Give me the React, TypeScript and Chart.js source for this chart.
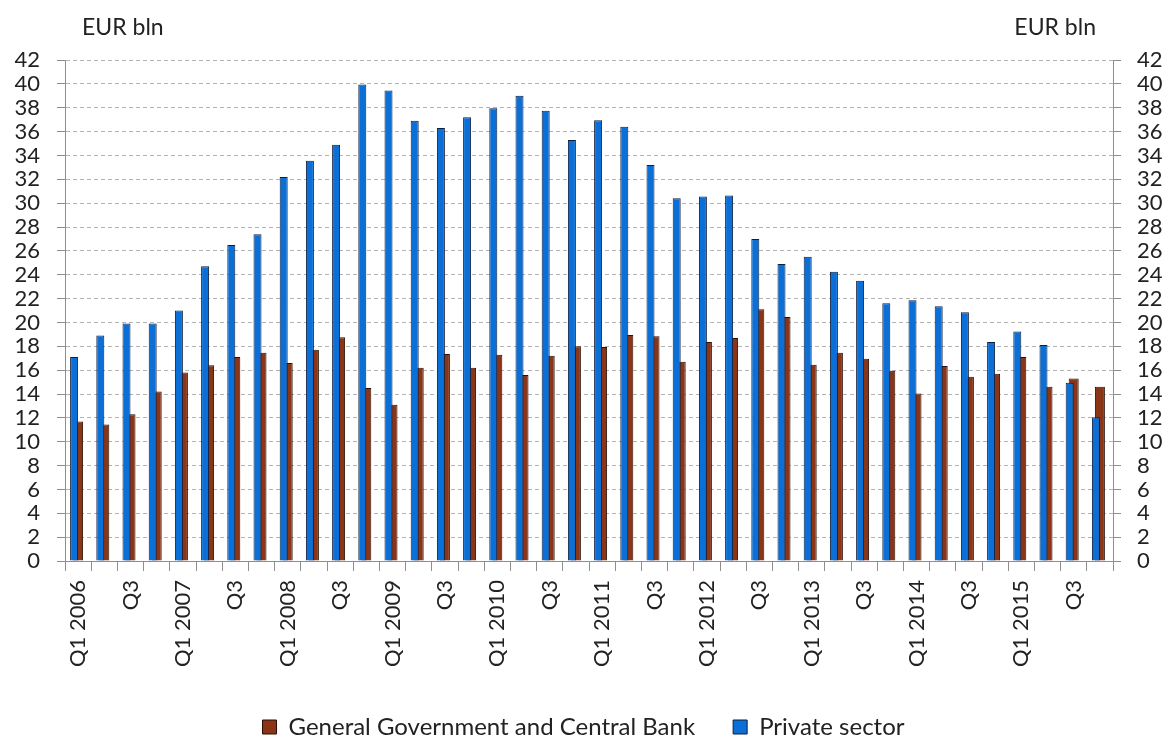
import React, { useEffect, useRef } from 'react';
import { Chart, registerables } from 'chart.js';

Chart.register(...registerables);

const categories = [
  'Q1 2006', 'Q2 2006', 'Q3 2006', 'Q4 2006',
  'Q1 2007', 'Q2 2007', 'Q3 2007', 'Q4 2007',
  'Q1 2008', 'Q2 2008', 'Q3 2008', 'Q4 2008',
  'Q1 2009', 'Q2 2009', 'Q3 2009', 'Q4 2009',
  'Q1 2010', 'Q2 2010', 'Q3 2010', 'Q4 2010',
  'Q1 2011', 'Q2 2011', 'Q3 2011', 'Q4 2011',
  'Q1 2012', 'Q2 2012', 'Q3 2012', 'Q4 2012',
  'Q1 2013', 'Q2 2013', 'Q3 2013', 'Q4 2013',
  'Q1 2014', 'Q2 2014', 'Q3 2014', 'Q4 2014',
  'Q1 2015', 'Q2 2015', 'Q3 2015', 'Q4 2015',
];

const tickLabels = [
  'Q1 2006', '', 'Q3', '',
  'Q1 2007', '', 'Q3', '',
  'Q1 2008', '', 'Q3', '',
  'Q1 2009', '', 'Q3', '',
  'Q1 2010', '', 'Q3', '',
  'Q1 2011', '', 'Q3', '',
  'Q1 2012', '', 'Q3', '',
  'Q1 2013', '', 'Q3', '',
  'Q1 2014', '', 'Q3', '',
  'Q1 2015', '', 'Q3', '',
];

const privateSector = [
  17.1, 18.9, 19.9, 19.9,
  21.0, 24.7, 26.5, 27.4,
  32.2, 33.55, 34.9, 39.95,
  39.45, 36.9, 36.3, 37.2,
  37.95, 39.0, 37.75, 35.3,
  36.95, 36.4, 33.2, 30.4,
  30.55, 30.65, 27.0, 24.9,
  25.5, 24.25, 23.5, 21.6,
  21.85, 21.35, 20.85, 18.35,
  19.25, 18.1, 14.95, 12.05,
];

const generalGovernment = [
  11.7, 11.45, 12.3, 14.2,
  15.8, 16.4, 17.1, 17.45,
  16.6, 17.7, 18.75, 14.5,
  13.1, 16.2, 17.35, 16.2,
  17.3, 15.6, 17.2, 18.0,
  17.95, 18.95, 18.85, 16.7,
  18.35, 18.7, 21.1, 20.45,
  16.45, 17.45, 16.95, 15.95,
  14.05, 16.35, 15.45, 15.7,
  17.1, 14.6, 15.3, 14.6,
];

const seriesNames = ['Private sector', 'General Government and Central Bank'];
const unitLabel = 'EUR bln';
const yMin = 0;
const yMax = 42;
const yStep = 2;

const FONT = 'Lato, "Open Sans", sans-serif';
const TEXT = '#222222';
const AXIS = '#8e8e8e';

export default function App() {
  const ref = useRef<HTMLCanvasElement | null>(null);

  useEffect(() => {
    if (!ref.current) return;

    const unitPlugin = {
      id: 'unitLabels',
      afterDraw(chart: any) {
        const { ctx, chartArea } = chart;
        ctx.save();
        ctx.font = `23px ${FONT}`;
        ctx.fillStyle = TEXT;
        ctx.textBaseline = 'middle';
        ctx.textAlign = 'left';
        ctx.fillText(unitLabel, chartArea.left + 17, 28);
        ctx.textAlign = 'right';
        ctx.fillText(unitLabel, chartArea.right - 17, 28);
        ctx.restore();
      },
    };

    const catPct = 0.458;

    const chart = new Chart(ref.current, {
      type: 'bar',
      data: {
        labels: categories,
        datasets: [
          {
            label: seriesNames[0],
            data: privateSector,
            backgroundColor: '#0a70d8',
            borderColor: '#0f1e3c',
            borderWidth: 1,
            barPercentage: 2,
            categoryPercentage: catPct,
          },
          {
            label: seriesNames[1],
            data: generalGovernment,
            backgroundColor: '#8b3517',
            borderColor: '#2a0f06',
            borderWidth: 1,
            barPercentage: 2.5,
            categoryPercentage: catPct,
          },
          {
            label: '',
            data: [],
            backgroundColor: 'rgba(0,0,0,0)',
            borderWidth: 0,
            categoryPercentage: catPct,
          },
        ],
      },
      plugins: [unitPlugin],
      options: {
        animation: false,
        responsive: true,
        maintainAspectRatio: false,
        layout: { padding: { top: 60, left: 0, right: 0, bottom: -11 } },
        plugins: {
          tooltip: { enabled: false },
          legend: {
            position: 'bottom',
            reverse: true,
            labels: {
              filter: (item: any) => item.text !== '',
              font: { family: FONT, size: 24 },
              color: TEXT,
              boxWidth: 14,
              boxHeight: 14,
              padding: 38,
            },
          },
        },
        scales: {
          x: {
            grid: {
              offset: true,
              drawOnChartArea: false,
              drawTicks: true,
              tickLength: 10,
              color: AXIS,
              tickColor: AXIS,
            },
            border: { color: AXIS, width: 1 },
            ticks: {
              autoSkip: false,
              minRotation: 90,
              maxRotation: 90,
              padding: 9,
              font: { family: FONT, size: 22 },
              color: TEXT,
              callback: (_v: any, i: number) => tickLabels[i],
            },
            afterFit: (s: any) => {
              s.height = 116;
            },
          },
          y: {
            position: 'left',
            min: yMin,
            max: yMax,
            grid: {
              color: '#b4b4b4',
              tickColor: AXIS,
              tickLength: 8,
              tickBorderDash: [],
            },
            border: { color: AXIS, width: 1, dash: [4, 3] },
            ticks: {
              autoSkip: false,
              stepSize: yStep,
              padding: 17,
              font: { family: FONT, size: 22 },
              color: TEXT,
            },
            afterFit: (s: any) => {
              s.width = 65;
            },
          },
          y2: {
            position: 'right',
            min: yMin,
            max: yMax,
            grid: {
              drawOnChartArea: false,
              tickColor: AXIS,
              tickLength: 8,
            },
            border: { color: AXIS, width: 1 },
            ticks: {
              autoSkip: false,
              stepSize: yStep,
              padding: 16,
              font: { family: FONT, size: 22 },
              color: TEXT,
            },
            afterFit: (s: any) => {
              s.width = 54;
            },
          },
        },
      },
    } as any);

    return () => chart.destroy();
  }, []);

  return (
    <div
      style={{
        position: 'fixed',
        left: 0,
        top: 0,
        width: 1167,
        height: 738,
        background: '#ffffff',
      }}
    >
      <canvas ref={ref} />
    </div>
  );
}
